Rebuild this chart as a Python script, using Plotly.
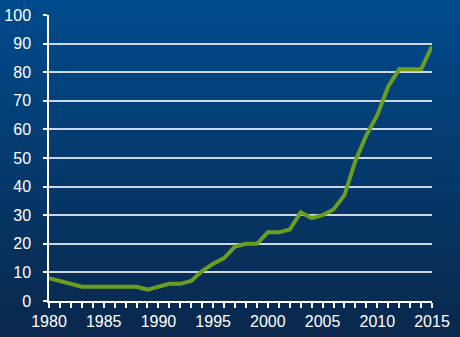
import plotly.graph_objects as go

years = list(range(1980, 2016))
values = [8, 7, 6, 5, 5, 5, 5, 5, 5, 4, 5, 6, 6, 7, 10.5, 13, 15, 19, 20, 20,
          24, 24, 25, 31, 29, 30, 32, 37, 49, 58, 65, 75, 81, 81, 81, 89]
x_ticks = [1980, 1985, 1990, 1995, 2000, 2005, 2010, 2015]
y_ticks = list(range(0, 101, 10))

W, H = 460, 337
ml, mr, mt, mb = 49, 28, 15, 36
pw, ph = W - ml - mr, H - mt - mb

top_rgb = (0, 75, 141)
bot_rgb = (10, 40, 76)
n = 80
shapes = []
y_lo = -mb / ph
y_hi = 1 + mt / ph
x_lo = -ml / pw - 0.05
x_hi = 1 + mr / pw + 0.05
for i in range(n):
    t = i / (n - 1)
    c = tuple(round(top_rgb[k] + (bot_rgb[k] - top_rgb[k]) * t) for k in range(3))
    y1 = y_hi - (y_hi - y_lo) * i / n
    y0 = y_hi - (y_hi - y_lo) * (i + 1) / n
    if i == 0:
        y1 += 0.2
    if i == n - 1:
        y0 -= 0.2
    shapes.append(dict(type="rect", xref="paper", yref="paper", x0=x_lo, x1=x_hi,
                       y0=y0 - 0.002, y1=y1 + 0.002, fillcolor=f"rgb{c}",
                       line=dict(width=0), layer="below"))

fig = go.Figure()
fig.add_trace(go.Scatter(x=years, y=values, mode="lines",
                         line=dict(color="#6c9d1f", width=4), cliponaxis=False))

font = dict(family="Arial, Liberation Sans, sans-serif", size=16, color="white")
fig.update_layout(
    width=W, height=H,
    margin=dict(l=ml, r=mr, t=mt, b=mb, pad=0, autoexpand=False),
    paper_bgcolor="rgb(0,75,141)",
    plot_bgcolor="rgba(0,0,0,0)",
    shapes=shapes,
    showlegend=False,
    font=font,
    xaxis=dict(range=[1980, 2015], tickvals=x_ticks, showgrid=False,
               showline=True, linecolor="white", linewidth=1.5,
               ticks="outside", ticklen=5, tickcolor="white", tickwidth=1.5,
               minor=dict(dtick=1, tick0=1980, ticks="outside", ticklen=5,
                          tickcolor="white", tickwidth=1.5, showgrid=False),
               zeroline=False, tickfont=font, automargin=False,
               ticklabelstandoff=0),
    yaxis=dict(range=[0, 100], tickvals=y_ticks, showgrid=True,
               gridcolor="rgba(255,255,255,0.8)", gridwidth=1.5,
               showline=True, linecolor="white", linewidth=1.5,
               ticks="outside", ticklen=4, tickcolor="white", tickwidth=1.5,
               zeroline=False, tickfont=font, automargin=False,
               ticklabelstandoff=9),
)

fig.write_html("out.html")
